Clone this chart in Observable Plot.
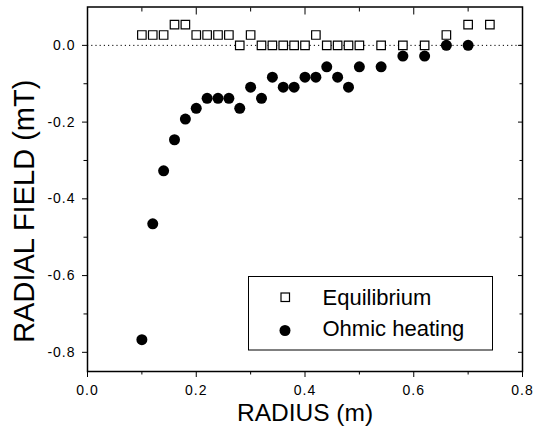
<!DOCTYPE html>
<html>
<head>
<meta charset="utf-8">
<script src="https://cdn.jsdelivr.net/npm/d3@7"></script>
<script src="https://cdn.jsdelivr.net/npm/@observablehq/plot@0.6"></script>
<style>
  html, body { margin: 0; padding: 0; background: white; }
  #wrap { position: relative; width: 543px; height: 439px; font-family: "Liberation Sans", Arial, sans-serif; }
  #legend { position: absolute; left: 248px; top: 276px; }
</style>
</head>
<body>
<div id="wrap"></div>
<script>
// Equilibrium series
const radiusEq = [0.10,0.12,0.14,0.16,0.18,0.20,0.22,0.24,0.26,0.28,0.30,0.32,0.34,0.36,0.38,0.40,0.42,0.44,0.46,0.48,0.50,0.54,0.58,0.62,0.66,0.70,0.74];
const fieldEq  = [0.027,0.027,0.027,0.054,0.054,0.027,0.027,0.027,0.027,0,0.027,0,0,0,0,0,0.027,0,0,0,0,0,0,0,0.027,0.054,0.054];
// Ohmic heating series
const radiusOh = [0.10,0.12,0.14,0.16,0.18,0.20,0.22,0.24,0.26,0.28,0.30,0.32,0.34,0.36,0.38,0.40,0.42,0.44,0.46,0.48,0.50,0.54,0.58,0.62,0.66,0.70];
const fieldOh  = [-0.767,-0.465,-0.327,-0.246,-0.192,-0.164,-0.138,-0.138,-0.138,-0.164,-0.109,-0.138,-0.083,-0.109,-0.109,-0.083,-0.083,-0.056,-0.083,-0.109,-0.056,-0.056,-0.028,-0.028,0,0];
// Ticks
const xTicks = [0.0,0.2,0.4,0.6,0.8];
const xMinor = [0.1,0.3,0.5,0.7];
const yTicks = [0.0,-0.2,-0.4,-0.6,-0.8];
const yMinor = [-0.1,-0.3,-0.5,-0.7];
const seriesNames = ["Equilibrium","Ohmic heating"];
const xLabel = "RADIUS (m)";
const yLabel = "RADIAL FIELD (mT)";

const eq = radiusEq.map((r,i)=>({r, v: fieldEq[i]}));
const oh = radiusOh.map((r,i)=>({r, v: fieldOh[i]}));
const fmt = d => d.toFixed(1);
const none = () => "";

const chart = Plot.plot({
  width: 543, height: 439,
  marginLeft: 87, marginRight: 21, marginTop: 6.5, marginBottom: 68,
  x: {domain: [0, 0.8]},
  y: {domain: [-0.85, 0.1]},
  style: {fontFamily: "'Liberation Sans', Arial, sans-serif", color: "black", background: "white"},
  marks: [
    Plot.ruleY([0], {stroke: "black", strokeWidth: 1, strokeDasharray: "1.2,3"}),
    Plot.axisX(xTicks, {anchor: "bottom", tickSize: 6, tickPadding: 8, tickFormat: fmt, fontSize: 14, label: null}),
    Plot.axisX(xMinor, {anchor: "bottom", tickSize: 3.5, tickFormat: none, label: null}),
    Plot.axisX(xTicks, {anchor: "top", tickSize: -7, tickFormat: none, label: null}),
    Plot.axisX(xMinor, {anchor: "top", tickSize: -4, tickFormat: none, label: null}),
    Plot.axisY(yTicks, {anchor: "left", tickSize: 5, tickPadding: 7, tickFormat: fmt, fontSize: 14, label: null}),
    Plot.axisY(yMinor, {anchor: "left", tickSize: 3.5, tickFormat: none, label: null}),
    Plot.axisY(yTicks, {anchor: "right", tickSize: -5, tickFormat: none, label: null}),
    Plot.axisY(yMinor, {anchor: "right", tickSize: -3.5, tickFormat: none, label: null}),
    Plot.frame({stroke: "black", strokeWidth: 1.5}),
    Plot.dot(eq, {x: "r", y: "v", symbol: "square", r: 4.8, stroke: "black", strokeWidth: 1.2, fill: "white"}),
    Plot.dot(oh, {x: "r", y: "v", symbol: "circle", r: 5.5, fill: "black", stroke: "none"}),
    Plot.text([xLabel], {frameAnchor: "bottom", dy: 49, fontSize: 24.5, fill: "black"}),
    Plot.text([yLabel], {frameAnchor: "left", textAnchor: "middle", rotate: -90, dx: -62.5, dy: 22, fontSize: 29, fill: "black"})
  ]
});
const wrap = document.getElementById("wrap");
wrap.appendChild(chart);
chart.querySelectorAll("text").forEach(t => { if (/^-?\d\.\d$/.test(t.textContent)) t.setAttribute("letter-spacing", "1"); });

// Legend (decoration)
const ns = "http://www.w3.org/2000/svg";
const leg = document.createElementNS(ns, "svg");
leg.setAttribute("id", "legend");
leg.setAttribute("width", 246); leg.setAttribute("height", 76);
leg.innerHTML = `
  <rect x="0.5" y="0.5" width="244" height="73.5" fill="white" stroke="black" stroke-width="1"/>
  <rect x="33" y="17" width="8.5" height="8.5" fill="white" stroke="black" stroke-width="1.2"/>
  <circle cx="37" cy="54.5" r="5.5" fill="black"/>
  <text x="74.5" y="29" font-size="22" font-family="'Liberation Sans', Arial, sans-serif">${seriesNames[0]}</text>
  <text x="74.5" y="60" font-size="22" font-family="'Liberation Sans', Arial, sans-serif">${seriesNames[1]}</text>`;
wrap.appendChild(leg);
</script>
</body>
</html>
